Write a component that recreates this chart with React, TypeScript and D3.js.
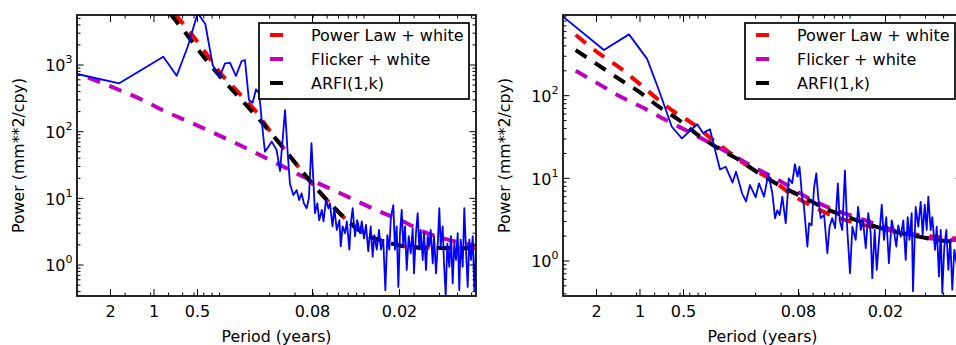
import React, { useEffect, useRef } from 'react';
import * as d3 from 'd3';

// frequency in cycles per year, power in mm**2/cpy
const leftFreq = [
  0.293, 0.575, 1.16, 1.436, 1.711, 2.006, 2.265, 2.547, 2.83, 3.1, 3.36, 3.69, 4.04, 4.26, 4.54, 4.82,
  5.08, 5.35, 5.56, 5.71, 5.86, 6.18, 6.53, 7.06, 7.45, 8.07, 8.39, 8.73, 9.21, 9.72, 10.1, 10.5, 10.9,
  11.4, 11.8, 12.3, 12.7, 13.0, 13.5, 13.9, 14.5, 14.9, 15.5, 16.1, 16.5, 17.2, 17.7, 18.4, 19.2, 19.6,
  20.2, 21.0, 21.6, 22.5, 23.0, 23.7, 24.6, 25.5, 26.7, 27.4, 28.4, 29.3, 30.4, 31.6, 32.6, 33.5, 34.8,
  36.1, 37.2, 38.6, 39.9, 41.2, 42.5, 43.6, 45.3, 46.5, 47.8, 49.1, 50.4, 51.8, 53.1, 54.6, 56.1, 57.9,
  59.8, 61.7, 63.0, 65.0, 66.8, 68.6, 70.1, 72.4, 73.9, 76.3, 78.4, 80.4, 82.2, 84.9, 86.7, 89.5, 91.9,
  94.3, 96.4, 99.5, 101.6, 104.4, 107.2, 110.6, 113.6, 116.7, 119.7, 123.0, 126.4, 129.7, 132.6, 136.9,
  140.4, 144.2, 148.2, 152.1, 156.3, 160.6, 164.8, 169.1,
];
const leftPower = [
  733, 531, 1331, 691, 1880, 6000, 4120, 1000, 645, 1060, 1080, 684, 1148, 1188, 298, 272,
  432, 376, 150, 84, 50, 59, 71, 53, 25.7, 211, 53, 16.4, 11.2, 13.3, 9.4, 11.9, 8.4,
  7.1, 10.1, 67, 16.8, 6.0, 8.4, 4.7, 6.7, 4.5, 9.4, 7.1, 8.4, 3.8, 7.1, 3.35, 4.7, 1.9,
  3.8, 3.0, 4.5, 1.7, 4.2, 7.1, 2.7, 4.7, 3.0, 4.5, 2.5, 4.0, 1.6, 3.8, 1.33, 2.8, 1.7,
  3.35, 1.7, 2.4, 0.42, 2.8, 1.7, 5.3, 7.9, 1.7, 3.8, 0.47, 3.0, 6.7, 1.9, 3.8, 0.84, 2.7,
  1.5, 3.5, 0.75, 3.0, 6.0, 1.7, 3.35, 1.19, 3.0, 0.84, 2.7, 1.9, 3.35, 1.06, 2.7, 0.75, 2.0,
  7.1, 1.9, 3.8, 1.06, 0.35, 2.1, 0.94, 2.7, 0.53, 2.1, 1.19, 3.0, 0.42, 2.4, 0.94,
  7.1, 1.7, 0.47, 2.4, 1.19, 2.7, 0.42, 1.7,
];

const rightFreq = [
  0.29, 0.563, 0.839, 1.12, 1.35, 1.66, 1.95, 2.49, 2.73, 3.05, 3.3, 3.58, 3.92, 4.37, 4.62, 5.1, 5.42,
  5.77, 6.32, 6.66, 7.22, 7.73, 8.24, 8.6, 8.92, 9.26, 9.66, 10.2, 10.7, 11.3, 11.8, 12.3, 12.7, 13.3,
  13.6, 14.4, 14.8, 15.4, 16.0, 16.6, 17.1, 17.8, 18.8, 19.8, 20.5, 21.4, 22.4, 23.4, 24.1, 25.1, 26.2,
  27.2, 28.4, 29.5, 31.1, 32.3, 33.7, 34.9, 36.5, 38.0, 39.5, 40.5, 42.1, 43.5, 45.1, 47.1, 48.8, 50.6,
  52.8, 55.2, 57.3, 59.4, 61.3, 63.7, 66.4, 69.0, 71.2, 73.3, 75.9, 77.5, 80.9, 84.3, 87.6, 90.4, 93.4,
  96.4, 98.9, 102.7, 105.4, 110.1, 113.1, 117.2, 120.5, 123.6, 127.6, 131.8, 136.1, 140.4, 144.9, 149.7,
  156, 163,
];
const rightPower = [
  920, 357, 552, 279, 117, 42.1, 30.5, 45.1, 35.3, 39.2, 22.4, 12.8, 13.8, 8.9, 12.0, 6.5, 5.25,
  8.3, 5.9, 8.7, 6.0, 11.3, 6.6, 3.3, 4.1, 3.6, 6.0, 2.86, 10.0, 8.7, 14.8, 10.5, 13.8, 5.5,
  4.8, 1.49, 2.86, 2.7, 7.6, 11.5, 6.0, 3.3, 3.6, 1.24, 2.6, 3.3, 2.5, 8.7, 3.1, 2.37, 12.4,
  2.37, 0.71, 2.6, 1.8, 4.5, 2.37, 3.1, 1.43, 3.8, 2.16, 0.62, 2.37, 0.78, 1.8, 4.8, 1.8, 3.4,
  0.94, 3.1, 2.24, 1.49, 2.7, 1.97, 3.1, 1.03, 3.4, 1.8, 3.8, 0.43, 4.5, 2.6, 5.2, 2.06, 4.8,
  2.37, 6.0, 2.37, 3.4, 1.36, 2.6, 0.65, 2.37, 0.41, 1.49, 2.37, 0.78, 1.8, 0.45, 1.36,
  0.9, 2.0,
];

// fitted noise models, left panel
const leftPLFreq = [1.4, 1.8, 2.29, 2.83, 3.89, 5.08, 6.28, 8.07, 9.97, 13.0, 17.0, 22.1, 29.7, 39.7, 60.7, 95, 169];
const leftPLPower = [5800, 2990, 1500, 794, 376, 200, 106, 53, 29.8, 14.9, 7.9, 4.5, 2.8, 2.24, 1.85, 1.8, 1.78];
const leftFlickerFreq = [0.349, 0.575, 0.835, 1.21, 1.75, 2.48, 3.69, 4.87, 7.06, 10.2, 18.4, 25.9, 36.6, 53.1, 73.1, 106, 169];
const leftFlickerPower = [649, 422, 298, 199, 141, 100, 67, 50, 33.5, 22.4, 12.6, 8.9, 6.3, 4.5, 3.16, 2.43, 1.95];
const leftArfiFreq = [1.3, 1.66, 2.11, 3.32, 4.45, 5.65, 8.07, 9.97, 13.0, 17.0, 22.1, 29.7, 39.7, 60.7, 95, 169];
const leftArfiPower = [5800, 2990, 1500, 472, 237, 133, 53, 29.8, 14.9, 7.9, 4.5, 2.8, 2.24, 1.85, 1.8, 1.78];

// fitted noise models, right panel
const rightPLFreq = [0.359, 0.52, 0.735, 0.984, 1.28, 1.72, 2.3, 3.09, 4.24, 5.68, 8.24, 11.3, 16.0, 20.9, 31.9, 62, 147, 169];
const rightPLPower = [542, 325, 214, 141, 95.5, 64, 46.3, 30.5, 20.1, 13.8, 9.5, 6.3, 4.5, 3.6, 2.86, 2.24, 1.88, 1.85];
const rightFlickerFreq = [0.359, 0.52, 0.735, 1.07, 1.51, 2.18, 3.09, 4.35, 6.32, 9.61, 14.8, 22.6, 32.8, 62, 100, 147, 169];
const rightFlickerPower = [200, 138, 97, 70.3, 50.8, 36.6, 26.5, 19.2, 13.3, 9.0, 5.7, 4.1, 3.3, 2.26, 1.88, 1.8, 1.78];
const rightArfiFreq = [0.359, 0.535, 0.735, 0.984, 1.35, 1.86, 2.43, 3.34, 4.84, 6.66, 9.16, 14.0, 19.3, 28.7, 42.8, 80.9, 149, 169];
const rightArfiPower = [357, 224, 155, 112, 73.5, 50.8, 35.1, 24.1, 16.7, 11.5, 8.3, 5.7, 4.3, 3.3, 2.6, 2.0, 1.71, 1.7];

const tickFreqs = [0.5, 1, 2, 12.5, 50];
const tickLabels = ['2', '1', '0.5', '0.08', '0.02'];
const legendLabels = ['Power Law + white', 'Flicker + white', 'ARFI(1,k)'];
const modelColors = ['#ff0000', '#bf00bf', '#000000'];

const FONT = 'DejaVu Sans';
const TOP = 15;
const BOTTOM = 296;
const X_DOMAIN: [number, number] = [0.2932, 169.2];
const CPY_PER_1E8HZ = 0.31557; // minor ticks sit on the Hz decades

const panels = [
  {
    left: 77,
    right: 476,
    yDomain: [0.343, 5623] as [number, number],
    freq: leftFreq,
    power: leftPower,
    models: [
      [leftPLFreq, leftPLPower],
      [leftFlickerFreq, leftFlickerPower],
      [leftArfiFreq, leftArfiPower],
    ],
  },
  {
    left: 563,
    right: 962,
    yDomain: [0.377, 947] as [number, number],
    freq: rightFreq,
    power: rightPower,
    models: [
      [rightPLFreq, rightPLPower],
      [rightFlickerFreq, rightFlickerPower],
      [rightArfiFreq, rightArfiPower],
    ],
  },
];

const App: React.FC = () => {
  const ref = useRef<SVGSVGElement>(null);

  useEffect(() => {
    const { current: node } = ref;
    if (!node) {
      return;
    }
    const svg = d3.select(node);
    svg.selectAll('*').remove();

    panels.forEach((p, i) => {
      const x = d3.scaleLog().domain(X_DOMAIN).range([p.left, p.right]);
      const y = d3.scaleLog().domain(p.yDomain).range([BOTTOM, TOP]);
      const clipId = `clip${i}`;
      svg
        .append('clipPath')
        .attr('id', clipId)
        .append('rect')
        .attr('x', p.left)
        .attr('y', TOP)
        .attr('width', p.right - p.left)
        .attr('height', BOTTOM - TOP);

      const plot = svg.append('g').attr('clip-path', `url(#${clipId})`);

      const smooth = d3
        .line<[number, number]>()
        .x((d) => x(d[0]))
        .y((d) => y(d[1]))
        .curve(d3.curveMonotoneX);
      const straight = d3
        .line<[number, number]>()
        .x((d) => x(d[0]))
        .y((d) => y(d[1]));

      // models: red, magenta, black on top
      p.models.forEach(([f, pw], k) => {
        plot
          .append('path')
          .datum(d3.zip(f, pw) as [number, number][])
          .attr('d', smooth)
          .attr('fill', 'none')
          .attr('stroke', modelColors[k])
          .attr('stroke-width', 4)
          .attr('stroke-dasharray', '13,10');
      });

      // periodogram
      plot
        .append('path')
        .datum(d3.zip(p.freq, p.power) as [number, number][])
        .attr('d', straight)
        .attr('fill', 'none')
        .attr('stroke', '#0000ff')
        .attr('stroke-width', 1.8)
        .attr('stroke-linejoin', 'round');

      const axes = svg.append('g').attr('stroke', '#000').attr('stroke-width', 1);

      // x ticks (bottom and top)
      const xMinor: number[] = [];
      [1, 10, 100].forEach((dec) => {
        for (let n = 2; n <= 9; n++) {
          const f = n * dec * CPY_PER_1E8HZ;
          if (f > X_DOMAIN[0] && f < X_DOMAIN[1]) xMinor.push(f);
        }
      });
      xMinor.forEach((f) => {
        axes.append('line').attr('x1', x(f)).attr('x2', x(f)).attr('y1', BOTTOM).attr('y2', BOTTOM - 3.5);
        axes.append('line').attr('x1', x(f)).attr('x2', x(f)).attr('y1', TOP).attr('y2', TOP + 3.5);
      });
      tickFreqs.forEach((f) => {
        axes.append('line').attr('x1', x(f)).attr('x2', x(f)).attr('y1', BOTTOM).attr('y2', BOTTOM - 7);
        axes.append('line').attr('x1', x(f)).attr('x2', x(f)).attr('y1', TOP).attr('y2', TOP + 7);
      });

      // y ticks (left and right)
      const [y0, y1] = p.yDomain;
      for (let e = -1; e <= 4; e++) {
        for (let n = 1; n <= 9; n++) {
          const v = n * Math.pow(10, e);
          if (v < y0 || v > y1) continue;
          const len = n === 1 ? 6.5 : 3.5;
          axes.append('line').attr('x1', p.left).attr('x2', p.left + len).attr('y1', y(v)).attr('y2', y(v));
          axes.append('line').attr('x1', p.right).attr('x2', p.right - len).attr('y1', y(v)).attr('y2', y(v));
        }
      }

      // frame
      svg
        .append('rect')
        .attr('x', p.left)
        .attr('y', TOP)
        .attr('width', p.right - p.left)
        .attr('height', BOTTOM - TOP)
        .attr('fill', 'none')
        .attr('stroke', '#000')
        .attr('stroke-width', 1.7);

      const labels = svg.append('g').attr('font-family', FONT).attr('fill', '#000');

      tickFreqs.forEach((f, k) => {
        labels
          .append('text')
          .attr('x', x(f))
          .attr('y', BOTTOM + 21)
          .attr('text-anchor', 'middle')
          .attr('font-size', 16)
          .text(tickLabels[k]);
      });

      for (let e = -1; e <= 4; e++) {
        const v = Math.pow(10, e);
        if (v < y0 || v > y1) continue;
        const t = labels
          .append('text')
          .attr('x', p.left - 4.5)
          .attr('y', y(v) + 6.3)
          .attr('text-anchor', 'end')
          .attr('font-size', 16);
        t.append('tspan').text('10');
        t.append('tspan').attr('font-size', 11).attr('dy', -8).text(String(e));
      }

      labels
        .append('text')
        .attr('x', (p.left + p.right) / 2)
        .attr('y', 341.5)
        .attr('text-anchor', 'middle')
        .attr('font-size', 15.8)
        .text('Period (years)');

      labels
        .append('text')
        .attr('transform', `translate(${p.left - 53},${(TOP + BOTTOM) / 2}) rotate(-90)`)
        .attr('text-anchor', 'middle')
        .attr('font-size', 15.8)
        .text('Power (mm**2/cpy)');

      // legend
      const lx = p.right - 217;
      const ly = TOP + 8;
      const legend = svg.append('g');
      legend
        .append('rect')
        .attr('x', lx)
        .attr('y', ly)
        .attr('width', 210)
        .attr('height', 76)
        .attr('fill', '#fff')
        .attr('stroke', '#000')
        .attr('stroke-width', 1.7);
      legendLabels.forEach((name, k) => {
        const cy = ly + 12 + k * 24;
        legend
          .append('line')
          .attr('x1', lx + 11)
          .attr('x2', lx + 24)
          .attr('y1', cy)
          .attr('y2', cy)
          .attr('stroke', modelColors[k])
          .attr('stroke-width', 4);
        legend
          .append('text')
          .attr('x', lx + 52)
          .attr('y', cy + 5.8)
          .attr('font-family', FONT)
          .attr('font-size', 16)
          .text(name);
      });
    });
  }, []);

  return (
    <svg
      ref={ref}
      width={956}
      height={345}
      style={{ position: 'absolute', left: 0, top: 0, background: '#fff' }}
    />
  );
};

export default App;
